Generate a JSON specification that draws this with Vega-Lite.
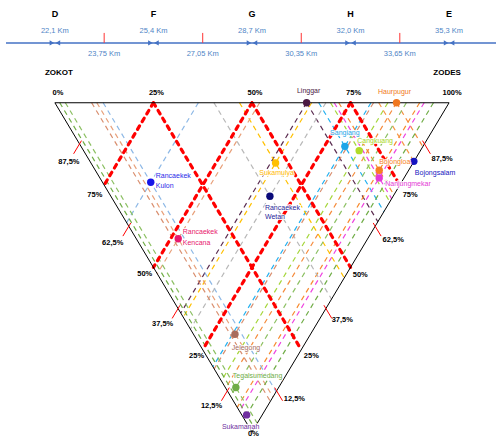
{
 "$schema": "https://vega.github.io/schema/vega-lite/v6.json",
 "width": 497, "height": 438,
 "autosize": {"type": "fit", "contains": "padding"},
 "padding": 0,
 "background": "white",
 "config": {"view": {"stroke": null}, "text": {"font": "Liberation Sans"}},
 "datasets": {
  "stations": [
   {"name": "Linggar", "label": "Linggar", "km": 30.53, "p": 100},
   {"name": "Haurpugur", "label": "Haurpugur", "km": 33.54, "p": 100},
   {"name": "Sangiang", "label": "Sangiang", "km": 31.81, "p": 86.76},
   {"name": "Cangkuang", "label": "Cangkuang", "km": 32.29, "p": 85.45},
   {"name": "Bojongloa", "label": "Bojongloa", "km": 32.96, "p": 79.48},
   {"name": "Nanjungmekar", "label": "Nanjungmekar", "km": 32.96, "p": 77.18},
   {"name": "Bojongsalam", "label": "Bojongsalam", "km": 34.12, "p": 82.2},
   {"name": "Sukamulya", "label": "Sukamulya", "km": 29.49, "p": 81.7},
   {"name": "Rancaekek Wetan", "label": "Rancaekek\nWetan", "km": 29.30, "p": 71.6},
   {"name": "Rancaekek Kulon", "label": "Rancaekek\nKulon", "km": 25.31, "p": 75.85},
   {"name": "Rancaekek Kencana", "label": "Rancaekek\nKencana", "km": 26.23, "p": 58.7},
   {"name": "Jelegong", "label": "Jelegong", "km": 28.13, "p": 29.7},
   {"name": "Tegalsumedang", "label": "Tegalsumedang", "km": 28.16, "p": 13.5},
   {"name": "Sukamanah", "label": "Sukamanah", "km": 28.52, "p": 5.2}
  ],
  "guides": [
   {"station": "Linggar", "km": 30.53, "p": 100, "km2": 32.915, "p2": 63.86},
   {"station": "Linggar", "km": 30.53, "p": 100, "km2": 26.315, "p2": 36.14},
   {"station": "Haurpugur", "km": 33.54, "p": 100, "km2": 34.42, "p2": 86.67},
   {"station": "Haurpugur", "km": 33.54, "p": 100, "km2": 27.82, "p2": 13.33},
   {"station": "Sangiang", "km": 30.936, "p": 100, "km2": 33.118, "p2": 66.94},
   {"station": "Sangiang", "km": 32.684, "p": 100, "km2": 27.392, "p2": 19.82},
   {"station": "Cangkuang", "km": 31.33, "p": 100, "km2": 33.315, "p2": 69.92},
   {"station": "Cangkuang", "km": 33.25, "p": 100, "km2": 27.675, "p2": 15.53},
   {"station": "Bojongloa", "km": 31.606, "p": 100, "km2": 33.453, "p2": 72.02},
   {"station": "Bojongloa", "km": 34.314, "p": 100, "km2": 28.207, "p2": 7.47},
   {"station": "Nanjungmekar", "km": 31.454, "p": 100, "km2": 33.377, "p2": 70.86},
   {"station": "Nanjungmekar", "km": 34.466, "p": 100, "km2": 28.283, "p2": 6.32},
   {"station": "Bojongsalam", "km": 32.945, "p": 100, "km2": 34.12, "p2": 82.2},
   {"station": "Sukamulya", "km": 28.282, "p": 100, "km2": 31.791, "p2": 46.83},
   {"station": "Sukamulya", "km": 30.698, "p": 100, "km2": 26.399, "p2": 34.86},
   {"station": "Rancaekek Kulon", "km": 23.716, "p": 100, "km2": 29.508, "p2": 12.24},
   {"station": "Rancaekek Kulon", "km": 26.904, "p": 100, "km2": 24.502, "p2": 63.61},
   {"station": "Rancaekek Kencana", "km": 23.504, "p": 100, "km2": 29.402, "p2": 10.64},
   {"station": "Rancaekek Kencana", "km": 28.956, "p": 100, "km2": 25.528, "p2": 48.06},
   {"station": "Rancaekek Wetan", "km": 27.426, "p": 100, "km2": 31.363, "p2": 40.35},
   {"station": "Rancaekek Wetan", "km": 31.174, "p": 100, "km2": 26.637, "p2": 31.26},
   {"station": "Jelegong", "km": 23.33, "p": 100, "km2": 29.315, "p2": 9.32},
   {"station": "Jelegong", "km": 32.77, "p": 100, "km2": 27.435, "p2": 19.17},
   {"station": "Tegalsumedang", "km": 22.451, "p": 100, "km2": 28.876, "p2": 2.66},
   {"station": "Tegalsumedang", "km": 33.869, "p": 100, "km2": 27.985, "p2": 10.84},
   {"station": "Sukamanah", "km": 22.263, "p": 100, "km2": 28.782, "p2": 1.23},
   {"station": "Sukamanah", "km": 34.777, "p": 100, "km2": 28.439, "p2": 3.96}
  ],
  "grid": [
   {"km": 25.4, "p": 100, "km2": 23.75, "p2": 75},
   {"km": 25.4, "p": 100, "km2": 30.35, "p2": 25},
   {"km": 28.7, "p": 100, "km2": 25.4, "p2": 50},
   {"km": 28.7, "p": 100, "km2": 32.0, "p2": 50},
   {"km": 32.0, "p": 100, "km2": 27.05, "p2": 25},
   {"km": 32.0, "p": 100, "km2": 33.65, "p2": 75}
  ],
  "frame": [
   {"km": 22.1, "p": 100, "km2": 35.3, "p2": 100},
   {"km": 22.1, "p": 100, "km2": 28.7, "p2": 0},
   {"km": 35.3, "p": 100, "km2": 28.7, "p2": 0}
  ],
  "edgeTicks": [
   {"km": 22.991, "p": 88.5, "km2": 22.727, "p2": 84.5},
   {"km": 24.641, "p": 63.5, "km2": 24.377, "p2": 59.5},
   {"km": 26.291, "p": 38.5, "km2": 26.027, "p2": 34.5},
   {"km": 27.941, "p": 13.5, "km2": 27.677, "p2": 9.5},
   {"km": 34.409, "p": 88.5, "km2": 34.673, "p2": 84.5},
   {"km": 32.759, "p": 63.5, "km2": 33.023, "p2": 59.5},
   {"km": 31.109, "p": 38.5, "km2": 31.373, "p2": 34.5},
   {"km": 29.459, "p": 13.5, "km2": 29.723, "p2": 9.5}
  ],
  "kmMajor": [
   {"letter": "D", "km": 22.1, "lab": "22,1 Km"},
   {"letter": "F", "km": 25.4, "lab": "25,4 Km"},
   {"letter": "G", "km": 28.7, "lab": "28,7 Km"},
   {"letter": "H", "km": 32.0, "lab": "32,0 Km"},
   {"letter": "E", "km": 35.3, "lab": "35,3 Km"}
  ],
  "kmMinor": [
   {"km": 23.75, "lab": "23,75 Km"},
   {"km": 27.05, "lab": "27,05 Km"},
   {"km": 30.35, "lab": "30,35 Km"},
   {"km": 33.65, "lab": "33,65 Km"}
  ],
  "pctTop": [
   {"km": 22.1, "lab": "0%"},
   {"km": 25.4, "lab": "25%"},
   {"km": 28.7, "lab": "50%"},
   {"km": 32.0, "lab": "75%"},
   {"km": 35.3, "lab": "100%"}
  ],
  "pctSide": [
   {"km": 22.568, "p": 82.12, "lab": "87,5%"},
   {"km": 23.437, "p": 72.12, "lab": "75%"},
   {"km": 24.038, "p": 57.27, "lab": "62,5%"},
   {"km": 25.108, "p": 47.88, "lab": "50%"},
   {"km": 25.709, "p": 32.73, "lab": "37,5%"},
   {"km": 26.845, "p": 23.03, "lab": "25%"},
   {"km": 27.347, "p": 7.88, "lab": "12,5%"},
   {"km": 28.75, "p": -0.61, "lab": "0%"},
   {"km": 35.066, "p": 83.03, "lab": "87,5%"},
   {"km": 33.997, "p": 72.12, "lab": "75%"},
   {"km": 33.429, "p": 58.18, "lab": "62,5%"},
   {"km": 32.326, "p": 47.58, "lab": "50%"},
   {"km": 31.724, "p": 33.94, "lab": "37,5%"},
   {"km": 30.688, "p": 23.03, "lab": "25%"},
   {"km": 30.12, "p": 10.0, "lab": "12,5%"}
  ],
  "corners": [
   {"km": 22.234, "p": 109.09, "lab": "ZOKOT"},
   {"km": 35.233, "p": 109.09, "lab": "ZODES"}
  ]
 },
 "layer": [
  {"data": {"name": "guides"}, "mark": {"type": "rule", "strokeWidth": 1.2, "strokeDash": [5, 4]},
   "encoding": {
    "x": {"field": "km", "type": "quantitative", "scale": {"domain": [20.262, 36.871], "nice": false, "zero": false}, "axis": null},
    "y": {"field": "p", "type": "quantitative", "scale": {"domain": [-1.515, 131.21], "nice": false, "zero": false}, "axis": null},
    "x2": {"field": "km2"}, "y2": {"field": "p2"},
    "color": {"field": "station", "type": "nominal", "legend": null,
     "scale": {"domain": ["Linggar","Haurpugur","Sangiang","Cangkuang","Bojongloa","Nanjungmekar","Bojongsalam","Sukamulya","Rancaekek Wetan","Rancaekek Kulon","Rancaekek Kencana","Jelegong","Tegalsumedang","Sukamanah"],
      "range": ["#5B2C50","#F58B3C","#22B0F0","#A5D63A","#F78A2E","#EE44E0","#F79646","#FFC000","#B8B8B8","#8DB8E6","#E8A07A","#D98E6E","#8CC063","#70AD47"]}}}},
  {"data": {"name": "grid"}, "mark": {"type": "rule", "strokeWidth": 3.2, "strokeDash": [4, 5], "strokeCap": "round", "color": "#FF0000"},
   "encoding": {
    "x": {"field": "km", "type": "quantitative", "scale": {"domain": [20.262, 36.871], "nice": false, "zero": false}, "axis": null},
    "y": {"field": "p", "type": "quantitative", "scale": {"domain": [-1.515, 131.21], "nice": false, "zero": false}, "axis": null},
    "x2": {"field": "km2"}, "y2": {"field": "p2"}}},
  {"data": {"name": "frame"}, "mark": {"type": "rule", "strokeWidth": 1, "color": "#000000"},
   "encoding": {
    "x": {"field": "km", "type": "quantitative", "scale": {"domain": [20.262, 36.871], "nice": false, "zero": false}, "axis": null},
    "y": {"field": "p", "type": "quantitative", "scale": {"domain": [-1.515, 131.21], "nice": false, "zero": false}, "axis": null},
    "x2": {"field": "km2"}, "y2": {"field": "p2"}}},
  {"data": {"name": "edgeTicks"}, "mark": {"type": "rule", "strokeWidth": 1, "color": "#FF0000"},
   "encoding": {
    "x": {"field": "km", "type": "quantitative", "scale": {"domain": [20.262, 36.871], "nice": false, "zero": false}, "axis": null},
    "y": {"field": "p", "type": "quantitative", "scale": {"domain": [-1.515, 131.21], "nice": false, "zero": false}, "axis": null},
    "x2": {"field": "km2"}, "y2": {"field": "p2"}}},
  {"data": {"values": [{"km": 20.463, "km2": 36.871}]}, "mark": {"type": "rule", "strokeWidth": 1.5, "color": "#4472C4"},
   "encoding": {
    "x": {"field": "km", "type": "quantitative", "scale": {"domain": [20.262, 36.871], "nice": false, "zero": false}, "axis": null},
    "x2": {"field": "km2"},
    "y": {"datum": 118.18, "type": "quantitative", "scale": {"domain": [-1.515, 131.21], "nice": false, "zero": false}, "axis": null}}},
  {"data": {"name": "kmMinor"}, "mark": {"type": "rule", "strokeWidth": 1, "color": "#FF3333"},
   "encoding": {
    "x": {"field": "km", "type": "quantitative", "scale": {"domain": [20.262, 36.871], "nice": false, "zero": false}, "axis": null},
    "y": {"datum": 121.21, "type": "quantitative", "scale": {"domain": [-1.515, 131.21], "nice": false, "zero": false}, "axis": null},
    "y2": {"datum": 118.18}}},
  {"data": {"name": "kmMajor"}, "mark": {"type": "point", "shape": "triangle-right", "filled": true, "size": 28, "color": "#4472C4", "opacity": 1, "xOffset": -3},
   "encoding": {
    "x": {"field": "km", "type": "quantitative", "scale": {"domain": [20.262, 36.871], "nice": false, "zero": false}, "axis": null},
    "y": {"datum": 118.18, "type": "quantitative", "scale": {"domain": [-1.515, 131.21], "nice": false, "zero": false}, "axis": null}}},
  {"data": {"name": "kmMajor"}, "mark": {"type": "point", "shape": "triangle-left", "filled": true, "size": 28, "color": "#4472C4", "opacity": 1, "xOffset": 3},
   "encoding": {
    "x": {"field": "km", "type": "quantitative", "scale": {"domain": [20.262, 36.871], "nice": false, "zero": false}, "axis": null},
    "y": {"datum": 118.18, "type": "quantitative", "scale": {"domain": [-1.515, 131.21], "nice": false, "zero": false}, "axis": null}}},
  {"data": {"name": "kmMajor"}, "mark": {"type": "text", "fontSize": 9, "fontWeight": "bold", "color": "#000000", "baseline": "middle"},
   "encoding": {
    "x": {"field": "km", "type": "quantitative", "scale": {"domain": [20.262, 36.871], "nice": false, "zero": false}, "axis": null},
    "y": {"datum": 126.97, "type": "quantitative", "scale": {"domain": [-1.515, 131.21], "nice": false, "zero": false}, "axis": null},
    "text": {"field": "letter"}}},
  {"data": {"name": "kmMajor"}, "mark": {"type": "text", "fontSize": 7.5, "color": "#4F86C6", "baseline": "middle"},
   "encoding": {
    "x": {"field": "km", "type": "quantitative", "scale": {"domain": [20.262, 36.871], "nice": false, "zero": false}, "axis": null},
    "y": {"datum": 121.82, "type": "quantitative", "scale": {"domain": [-1.515, 131.21], "nice": false, "zero": false}, "axis": null},
    "text": {"field": "lab"}}},
  {"data": {"name": "kmMinor"}, "mark": {"type": "text", "fontSize": 7.5, "color": "#4F86C6", "baseline": "middle"},
   "encoding": {
    "x": {"field": "km", "type": "quantitative", "scale": {"domain": [20.262, 36.871], "nice": false, "zero": false}, "axis": null},
    "y": {"datum": 114.85, "type": "quantitative", "scale": {"domain": [-1.515, 131.21], "nice": false, "zero": false}, "axis": null},
    "text": {"field": "lab"}}},
  {"data": {"name": "pctTop"}, "mark": {"type": "text", "fontSize": 7.5, "fontWeight": "bold", "color": "#000000", "baseline": "middle", "dx": 3},
   "encoding": {
    "x": {"field": "km", "type": "quantitative", "scale": {"domain": [20.262, 36.871], "nice": false, "zero": false}, "axis": null},
    "y": {"datum": 103.03, "type": "quantitative", "scale": {"domain": [-1.515, 131.21], "nice": false, "zero": false}, "axis": null},
    "text": {"field": "lab"}}},
  {"data": {"name": "pctSide"}, "mark": {"type": "text", "fontSize": 7.5, "fontWeight": "bold", "color": "#000000", "baseline": "middle"},
   "encoding": {
    "x": {"field": "km", "type": "quantitative", "scale": {"domain": [20.262, 36.871], "nice": false, "zero": false}, "axis": null},
    "y": {"field": "p", "type": "quantitative", "scale": {"domain": [-1.515, 131.21], "nice": false, "zero": false}, "axis": null},
    "text": {"field": "lab"}}},
  {"data": {"name": "corners"}, "mark": {"type": "text", "fontSize": 8, "fontWeight": "bold", "color": "#000000", "baseline": "middle"},
   "encoding": {
    "x": {"field": "km", "type": "quantitative", "scale": {"domain": [20.262, 36.871], "nice": false, "zero": false}, "axis": null},
    "y": {"field": "p", "type": "quantitative", "scale": {"domain": [-1.515, 131.21], "nice": false, "zero": false}, "axis": null},
    "text": {"field": "lab"}}},
  {"data": {"name": "stations"},
   "encoding": {
    "x": {"field": "km", "type": "quantitative", "scale": {"domain": [20.262, 36.871], "nice": false, "zero": false}, "axis": null},
    "y": {"field": "p", "type": "quantitative", "scale": {"domain": [-1.515, 131.21], "nice": false, "zero": false}, "axis": null},
    "text": {"field": "label"}},
   "layer": [
    {"mark": {"type": "point", "filled": true, "size": 55, "opacity": 1},
     "encoding": {"color": {"field": "name", "type": "nominal", "legend": null,
       "scale": {"domain": ["Linggar","Haurpugur","Sangiang","Cangkuang","Bojongloa","Nanjungmekar","Bojongsalam","Sukamulya","Rancaekek Wetan","Rancaekek Kulon","Rancaekek Kencana","Jelegong","Tegalsumedang","Sukamanah"],
        "range": ["#4A1942","#F07820","#1EA5E8","#B0DC28","#F77F21","#E33AD5","#1515C0","#FFC000","#0A0A7A","#1515E8","#E8196E","#A86B5C","#6FAD47","#7030A0"]}}}},
    {"transform": [{"filter": "datum.name === 'Linggar'"}], "layer": [
     {"mark": {"type": "text", "fontSize": 7, "color": "#FFFFFF", "stroke": "#FFFFFF", "strokeWidth": 2, "strokeOpacity": 0.85, "align": "center", "baseline": "middle", "dx": 2, "dy": -12}},
     {"mark": {"type": "text", "fontSize": 7, "color": "#4A1942", "align": "center", "baseline": "middle", "dx": 2, "dy": -12}}]},
    {"transform": [{"filter": "datum.name === 'Haurpugur'"}], "layer": [
     {"mark": {"type": "text", "fontSize": 7, "color": "#FFFFFF", "stroke": "#FFFFFF", "strokeWidth": 2, "strokeOpacity": 0.85, "align": "center", "baseline": "middle", "dx": -2, "dy": -11}},
     {"mark": {"type": "text", "fontSize": 7, "color": "#F07820", "align": "center", "baseline": "middle", "dx": -2, "dy": -11}}]},
    {"transform": [{"filter": "datum.name === 'Sangiang'"}], "layer": [
     {"mark": {"type": "text", "fontSize": 7, "color": "#FFFFFF", "stroke": "#FFFFFF", "strokeWidth": 2, "strokeOpacity": 0.85, "align": "center", "baseline": "middle", "dx": 0, "dy": -13}},
     {"mark": {"type": "text", "fontSize": 7, "color": "#1EA5E8", "align": "center", "baseline": "middle", "dx": 0, "dy": -13}}]},
    {"transform": [{"filter": "datum.name === 'Cangkuang'"}], "layer": [
     {"mark": {"type": "text", "fontSize": 7, "color": "#FFFFFF", "stroke": "#FFFFFF", "strokeWidth": 2, "strokeOpacity": 0.85, "align": "left", "baseline": "middle", "dx": -2, "dy": -10}},
     {"mark": {"type": "text", "fontSize": 7, "color": "#A8D824", "align": "left", "baseline": "middle", "dx": -2, "dy": -10}}]},
    {"transform": [{"filter": "datum.name === 'Bojongloa'"}], "layer": [
     {"mark": {"type": "text", "fontSize": 7, "color": "#FFFFFF", "stroke": "#FFFFFF", "strokeWidth": 2, "strokeOpacity": 0.85, "align": "left", "baseline": "middle", "dx": 0, "dy": -8}},
     {"mark": {"type": "text", "fontSize": 7, "color": "#F77F21", "align": "left", "baseline": "middle", "dx": 0, "dy": -8}}]},
    {"transform": [{"filter": "datum.name === 'Nanjungmekar'"}], "layer": [
     {"mark": {"type": "text", "fontSize": 7, "color": "#FFFFFF", "stroke": "#FFFFFF", "strokeWidth": 2, "strokeOpacity": 0.85, "align": "left", "baseline": "middle", "dx": 6, "dy": 6}},
     {"mark": {"type": "text", "fontSize": 7, "color": "#E33AD5", "align": "left", "baseline": "middle", "dx": 6, "dy": 6}}]},
    {"transform": [{"filter": "datum.name === 'Bojongsalam'"}], "layer": [
     {"mark": {"type": "text", "fontSize": 7, "color": "#FFFFFF", "stroke": "#FFFFFF", "strokeWidth": 2, "strokeOpacity": 0.85, "align": "left", "baseline": "middle", "dx": 1, "dy": 12}},
     {"mark": {"type": "text", "fontSize": 7, "color": "#1515C0", "align": "left", "baseline": "middle", "dx": 1, "dy": 12}}]},
    {"transform": [{"filter": "datum.name === 'Sukamulya'"}], "layer": [
     {"mark": {"type": "text", "fontSize": 7, "color": "#FFFFFF", "stroke": "#FFFFFF", "strokeWidth": 2, "strokeOpacity": 0.85, "align": "center", "baseline": "middle", "dx": 1, "dy": 10}},
     {"mark": {"type": "text", "fontSize": 7, "color": "#FFB800", "align": "center", "baseline": "middle", "dx": 1, "dy": 10}}]},
    {"transform": [{"filter": "datum.name === 'Rancaekek Wetan'"}], "layer": [
     {"mark": {"type": "text", "fontSize": 7, "color": "#FFFFFF", "stroke": "#FFFFFF", "strokeWidth": 2, "strokeOpacity": 0.85, "align": "left", "baseline": "middle", "dx": -5, "dy": 11.6, "lineBreak": "\n", "lineHeight": 9}},
     {"mark": {"type": "text", "fontSize": 7, "color": "#1F1F9A", "align": "left", "baseline": "middle", "dx": -5, "dy": 11.6, "lineBreak": "\n", "lineHeight": 9}}]},
    {"transform": [{"filter": "datum.name === 'Rancaekek Kulon'"}], "layer": [
     {"mark": {"type": "text", "fontSize": 7, "color": "#FFFFFF", "stroke": "#FFFFFF", "strokeWidth": 2, "strokeOpacity": 0.85, "align": "left", "baseline": "middle", "dx": 5, "dy": -6, "lineBreak": "\n", "lineHeight": 10}},
     {"mark": {"type": "text", "fontSize": 7, "color": "#2A2AE8", "align": "left", "baseline": "middle", "dx": 5, "dy": -6, "lineBreak": "\n", "lineHeight": 10}}]},
    {"transform": [{"filter": "datum.name === 'Rancaekek Kencana'"}], "layer": [
     {"mark": {"type": "text", "fontSize": 7, "color": "#FFFFFF", "stroke": "#FFFFFF", "strokeWidth": 2, "strokeOpacity": 0.85, "align": "left", "baseline": "middle", "dx": 4.5, "dy": -6.6, "lineBreak": "\n", "lineHeight": 10.5}},
     {"mark": {"type": "text", "fontSize": 7, "color": "#E8196E", "align": "left", "baseline": "middle", "dx": 4.5, "dy": -6.6, "lineBreak": "\n", "lineHeight": 10.5}}]},
    {"transform": [{"filter": "datum.name === 'Jelegong'"}], "layer": [
     {"mark": {"type": "text", "fontSize": 7, "color": "#FFFFFF", "stroke": "#FFFFFF", "strokeWidth": 2, "strokeOpacity": 0.85, "align": "center", "baseline": "middle", "dx": 11, "dy": 14}},
     {"mark": {"type": "text", "fontSize": 7, "color": "#A86B5C", "align": "center", "baseline": "middle", "dx": 11, "dy": 14}}]},
    {"transform": [{"filter": "datum.name === 'Tegalsumedang'"}], "layer": [
     {"mark": {"type": "text", "fontSize": 7, "color": "#FFFFFF", "stroke": "#FFFFFF", "strokeWidth": 2, "strokeOpacity": 0.85, "align": "left", "baseline": "middle", "dx": -3, "dy": -12}},
     {"mark": {"type": "text", "fontSize": 7, "color": "#6FAD47", "align": "left", "baseline": "middle", "dx": -3, "dy": -12}}]},
    {"transform": [{"filter": "datum.name === 'Sukamanah'"}], "layer": [
     {"mark": {"type": "text", "fontSize": 7, "color": "#FFFFFF", "stroke": "#FFFFFF", "strokeWidth": 2, "strokeOpacity": 0.85, "align": "center", "baseline": "middle", "dx": -6, "dy": 12}},
     {"mark": {"type": "text", "fontSize": 7, "color": "#7030A0", "align": "center", "baseline": "middle", "dx": -6, "dy": 12}}]}
   ]}
 ],
 "resolve": {"scale": {"color": "independent"}}
}
